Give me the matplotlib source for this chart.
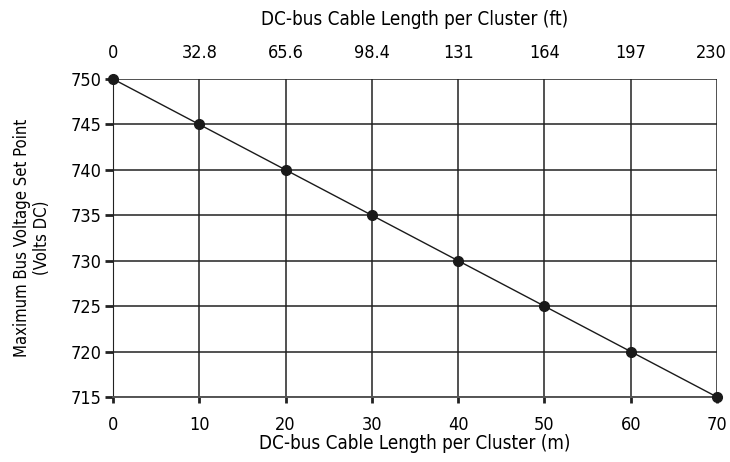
import matplotlib
matplotlib.use("Agg")
from matplotlib import pyplot as plt
from matplotlib import font_manager
from matplotlib.transforms import ScaledTranslation

length_m = [0, 10, 20, 30, 40, 50, 60, 70]
voltage = [750, 745, 740, 735, 730, 725, 720, 715]
length_ft_labels = ["0", "32.8", "65.6", "98.4", "131", "164", "197", "230"]
y_ticks = [715, 720, 725, 730, 735, 740, 745, 750]

# pick a narrow font if one is around
names = {f.name for f in font_manager.fontManager.ttflist}
stretches = {(f.name, f.stretch) for f in font_manager.fontManager.ttflist}
if "Liberation Sans Narrow" in names:
    plt.rcParams["font.family"] = ["Liberation Sans Narrow", "DejaVu Sans"]
elif ("DejaVu Sans", "condensed") in stretches or ("DejaVu Sans", "semi-condensed") in stretches:
    plt.rcParams["font.family"] = ["DejaVu Sans"]
    plt.rcParams["font.stretch"] = "condensed"
else:
    plt.rcParams["font.family"] = ["Roboto", "DejaVu Sans"]

fig = plt.figure(figsize=(7.3, 4.62), dpi=100)
ax = fig.add_axes([0.1548, 0.1407, 0.8274, 0.6883])

ax.plot(length_m, voltage, color="#1a1a1a", lw=1.0, marker="o", ms=7,
        mfc="#1a1a1a", mec="#1a1a1a", zorder=3, clip_on=False)

ax.set_xlim(0, 70)
ax.set_ylim(715, 750)
ax.set_xticks(length_m)
ax.set_yticks(y_ticks)
ax.grid(True, color="#222222", lw=1.1)
ax.set_axisbelow(True)
for s in ["top", "right"]:
    ax.spines[s].set_visible(False)
ax.spines["left"].set_color("#222222")
ax.spines["bottom"].set_color("#555555")
ax.spines["bottom"].set_linewidth(1.4)

ax.tick_params(axis="y", length=6, width=2, color="#222222", labelsize=13, pad=2)
ax.tick_params(axis="x", length=4, width=2, color="#222222", labelsize=13, pad=10)
ax.set_xlabel("DC-bus Cable Length per Cluster (m)", fontsize=13.5, labelpad=0)
ax.set_ylabel("Maximum Bus Voltage Set Point\n(Volts DC)", fontsize=12, labelpad=14)

top = ax.twiny()
top.set_xlim(ax.get_xlim())
top.set_xticks(length_m)
top.set_xticklabels(length_ft_labels)
top.tick_params(axis="x", length=0, labelsize=13, pad=12)
for s in top.spines.values():
    s.set_visible(False)
last = top.get_xticklabels()[-1]
last.set_transform(last.get_transform() + ScaledTranslation(-6 / 100, 0, fig.dpi_scale_trans))
top.set_xlabel("DC-bus Cable Length per Cluster (ft)", fontsize=13.5, labelpad=14)

fig.savefig("out.png", dpi=100)
